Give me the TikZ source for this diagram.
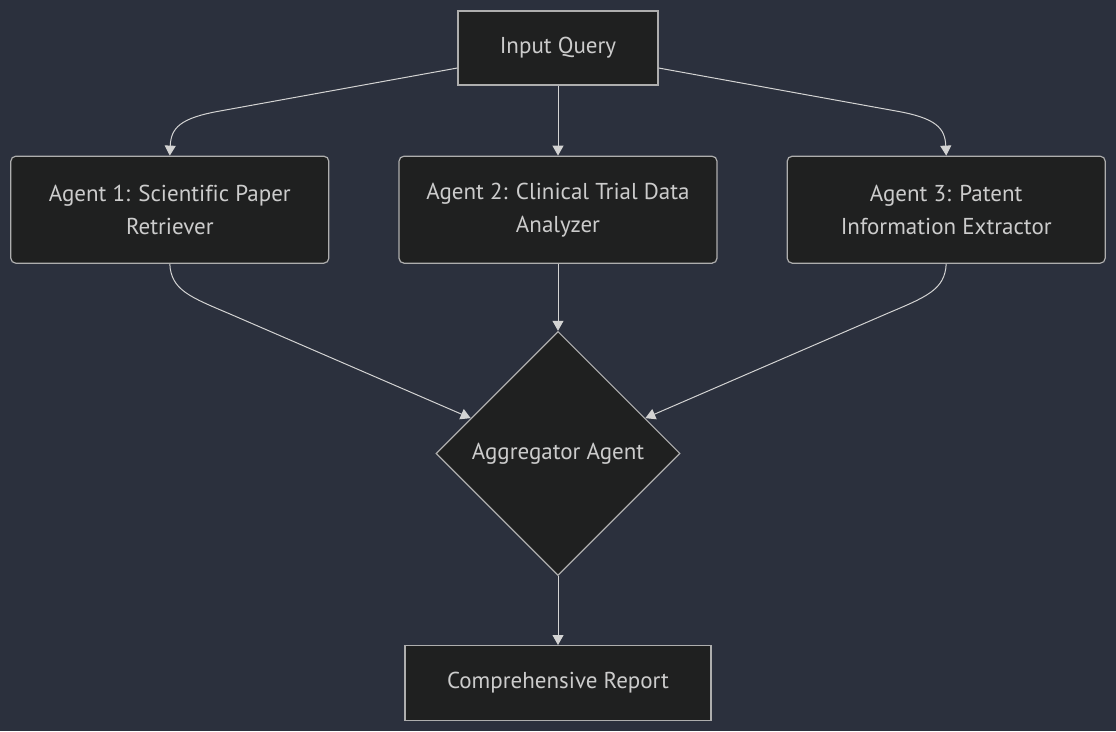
\documentclass[tikz,border=0pt]{standalone}
\usepackage{fontspec}
\setmainfont[Ligatures=NoCommon]{PT Sans}
\usetikzlibrary{arrows.meta,positioning,shapes.geometric}

\definecolor{bg}{HTML}{2B303D}
\definecolor{nodefill}{HTML}{1F2020}
\definecolor{nodeline}{HTML}{AEAEAE}
\definecolor{txt}{HTML}{CCCCCC}
\definecolor{wire}{HTML}{D3D3D3}

\begin{document}
\begin{tikzpicture}[x=1pt,y=-1pt,
        >={Triangle[length=10pt,width=11pt]},
        font=\fontsize{23}{33}\selectfont,
        box/.style={draw=nodeline,line width=1.2pt,fill=nodefill,text=txt,
          align=center,inner sep=0pt},
        agent/.style={box,rounded corners=5pt,minimum width=318pt,minimum height=107pt},
        agg/.style={box,diamond,minimum width=244pt,minimum height=244pt},
        line/.style={->,color=wire,line width=1pt}]

  \useasboundingbox[fill=bg] (0,0) rectangle (1116,731);

  \node[box,minimum width=200pt,minimum height=74pt] (iq) at (558,48) {Input Query};
  \node[agent] (a2) [below=70pt of iq] {Agent 2: Clinical Trial Data\\Analyzer};
  \node[agent] (a1) [left=69pt of a2] {Agent 1: Scientific Paper\\Retriever};
  \node[agent] (a3) [right=69pt of a2] {Agent 3: Patent\\Information Extractor};
  \node[agg] (agg) [below=67pt of a2] {Aggregator Agent};
  \node[box,minimum width=306pt,minimum height=75pt] (rep) [below=69pt of agg] {Comprehensive Report};

  \path[line] (iq) edge (a2)
              (a2) edge (agg)
              (agg) edge (rep);

  % query fans out to the side agents
  \draw[line] ([yshift=-20pt]iq.west) -- (220,111)
      .. controls (180,118) and (171,128) .. (a1.north);
  \draw[line] ([yshift=-20pt]iq.east) -- (896,111)
      .. controls (936,118) and (945,128) .. (a3.north);

  % side agents feed the aggregator
  \draw[line] (a1.south) .. controls (171,290) and (190,297) .. (230,314) -- (agg.158);
  \draw[line] (a3.south) .. controls (945,290) and (926,297) .. (886,314) -- (agg.22);
\end{tikzpicture}
\end{document}
